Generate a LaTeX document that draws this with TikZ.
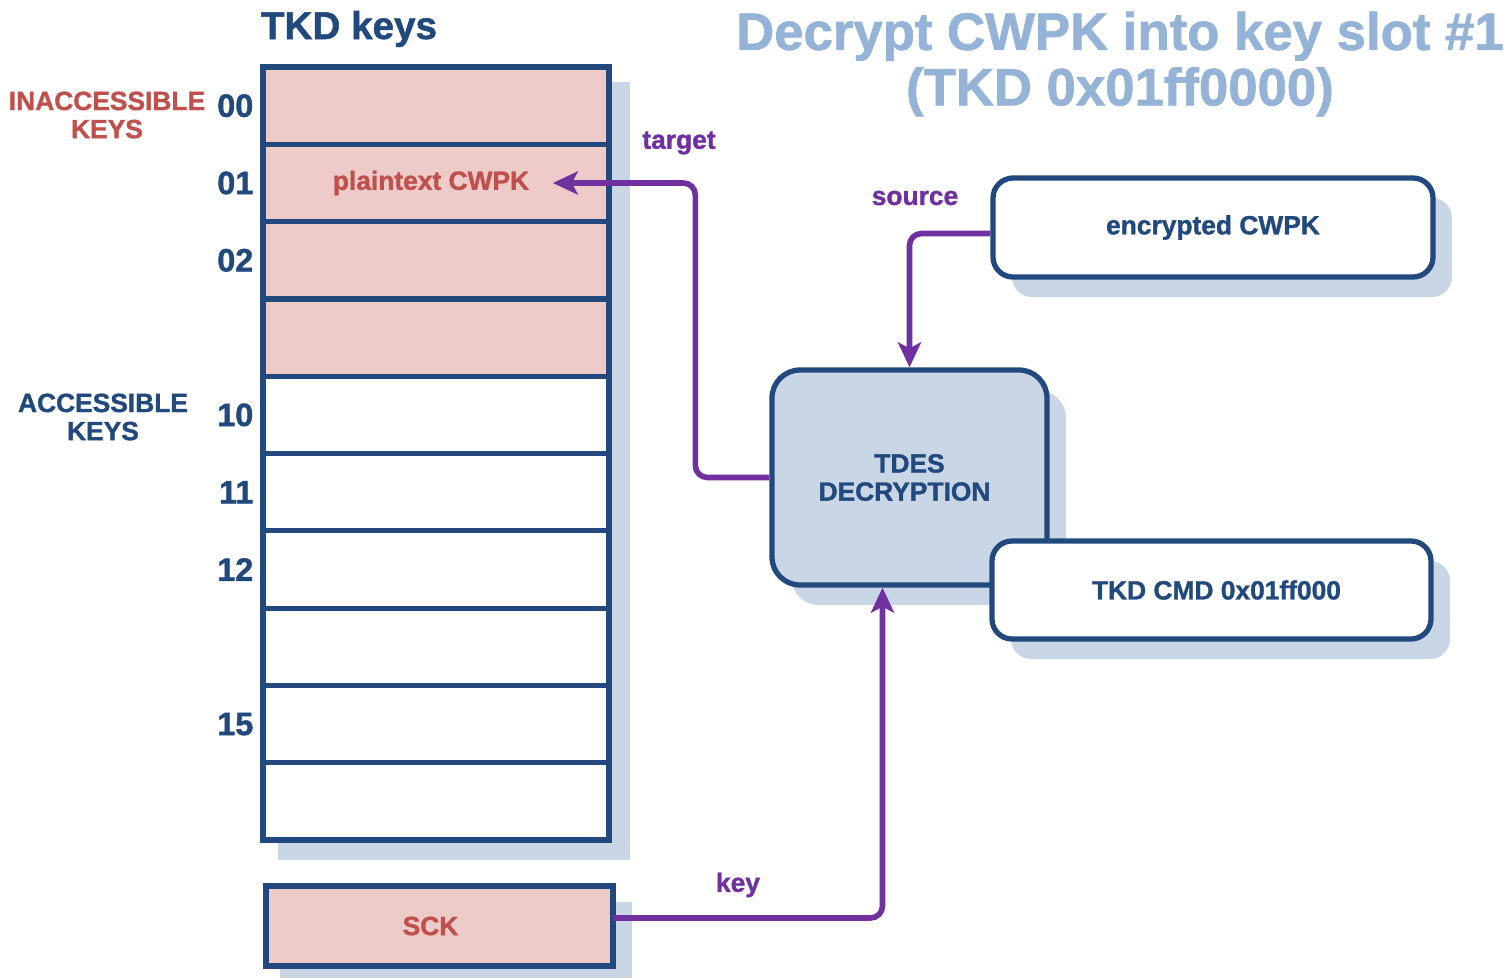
\documentclass[tikz,border=0pt]{standalone}
\usepackage{fontspec}
\setmainfont{Liberation Sans}[BoldFeatures={FakeBold=1.3}]
\usetikzlibrary{positioning, shadows, arrows.meta}
\definecolor{keynavy}{HTML}{22497E}
\definecolor{keypink}{HTML}{ECCBC9}
\definecolor{keyred}{HTML}{C0504D}
\definecolor{keypurple}{HTML}{7030A0}
\definecolor{keyshade}{HTML}{C9D6E6}
\definecolor{keytitle}{HTML}{95B3D7}

\begin{document}
\begin{tikzpicture}[x=1cm, y=-1cm,
        keyrow/.style={draw=keynavy, line width=1.5pt, minimum width=3.46cm, minimum height=0.773cm, inner sep=0pt, outer sep=0pt},
        lockrow/.style={keyrow, fill=keypink},
        openrow/.style={keyrow, fill=white},
        rownum/.style={text=keynavy, font=\bfseries\fontsize{9.2}{10}\selectfont, inner sep=0pt},
        small/.style={font=\bfseries\fontsize{7.5}{8}\selectfont, align=center, inner sep=0pt},
        roundbox/.style={draw=keynavy, line width=1.5pt, fill=white, rounded corners=2mm, small, text=keynavy,
            general shadow={fill=keyshade, shadow xshift=1.9mm, shadow yshift=-2mm}},
        link/.style={draw=keypurple, line width=1.6pt, rounded corners=1.2mm, -{Stealth[length=2.5mm, width=2.3mm, inset=0.6mm]}},
        tag/.style={small, text=keypurple}]
    \useasboundingbox (0,0) rectangle (15.09,9.78);

    \node[text=keynavy, font=\bfseries\fontsize{11}{12}\selectfont] (tkd) at (3.49,0.29) {TKD keys};
    \node[font=\bfseries\fontsize{15}{15.8}\selectfont, text=keytitle, align=center] (head) at (11.2,0.64)
        {Decrypt CWPK into key slot \#1\\(TKD 0x01ff0000)};

    \fill[keyshade] (2.78,0.82) rectangle (6.30,8.60);
    \node[lockrow] (row1) at (4.36,1.057) {};
    \node[lockrow, below=0pt of row1] (row2) {};
    \node[lockrow, below=0pt of row2] (row3) {};
    \node[lockrow, below=0pt of row3] (row4) {};
    \node[openrow, below=0pt of row4] (row5) {};
    \node[openrow, below=0pt of row5] (row6) {};
    \node[openrow, below=0pt of row6] (row7) {};
    \node[openrow, below=0pt of row7] (row8) {};
    \node[openrow, below=0pt of row8] (row9) {};
    \node[openrow, below=0pt of row9] (row10) {};
    \node[small, text=keyred] (plain) at (4.31,1.83) {plaintext CWPK};

    \node[rownum, left=0.9mm of row1] (n00) {00};
    \node[rownum, left=0.9mm of row2] (n01) {01};
    \node[rownum, left=0.9mm of row3] (n02) {02};
    \node[rownum, left=0.9mm of row5] (n10) {10};
    \node[rownum, left=0.9mm of row6] (n11) {11};
    \node[rownum, left=0.9mm of row7] (n12) {12};
    \node[rownum, left=0.9mm of row9] (n15) {15};

    \node[small, text=keyred] (hidden) at (1.07,1.15) {INACCESSIBLE\\KEYS};
    \node[small, text=keynavy] (shown) at (1.03,4.17) {ACCESSIBLE\\KEYS};

    \fill[keyshade] (2.80,9.02) rectangle (6.32,9.78);
    \node[lockrow, minimum width=3.47cm, minimum height=0.80cm, small, text=keyred] (sck) at (4.395,9.26) {\hspace*{-1.8mm}SCK};

    \node[roundbox, minimum width=4.40cm, minimum height=0.99cm] (enc) at (12.13,2.275) {encrypted CWPK};
    \node[roundbox, fill=keyshade, rounded corners=2.8mm, minimum width=2.75cm, minimum height=2.15cm] (tdes) at (9.095,4.775) {TDES\\DECRYPTION\hspace*{1mm}};
    \node[roundbox, minimum width=4.39cm, minimum height=0.98cm] (cmd) at (12.115,5.90) {\hspace*{1mm}TKD CMD 0x01ff000};

    \draw[link] (tdes.west) -- ++(-0.74,0) |- ([xshift=2.3mm]plain.east);
    \draw[link] ([yshift=-0.6mm]enc.west) -| (tdes.north);
    \draw[link] ([yshift=0.8mm]sck.east) -| ([xshift=-2.7mm]tdes.south);

    \node[tag] (ltarget) at (6.79,1.43) {target};
    \node[tag] (lsource) at (9.15,1.98) {source};
    \node[tag] (lkey) at (7.38,8.85) {key};
\end{tikzpicture}
\end{document}
